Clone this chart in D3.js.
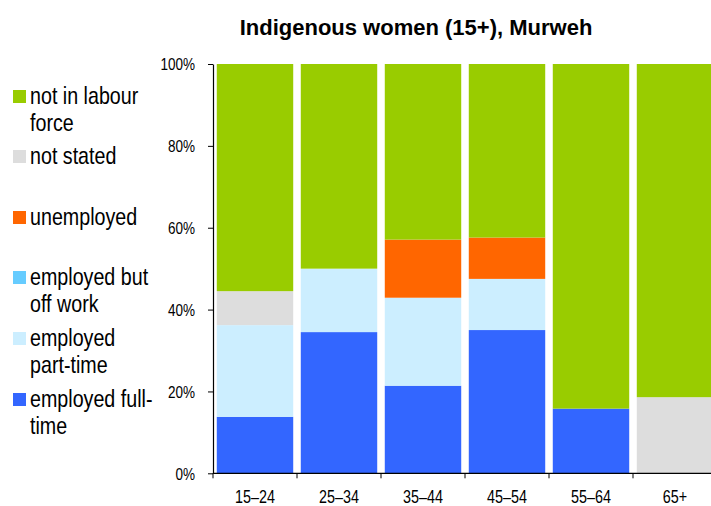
<!DOCTYPE html>
<html><head><meta charset="utf-8">
<script src="https://cdn.jsdelivr.net/npm/d3@7"></script>
<style>body{margin:0;background:#fff;} svg{display:block;font-family:"Liberation Sans",Arial,sans-serif;}</style>
</head><body>
<svg id="c" width="711" height="506"></svg>
<script>
const categories = ["15–24","25–34","35–44","45–54","55–64","65+"];
const seriesNames = ["employed full-time","employed part-time","employed but off work","unemployed","not stated","not in labour force"];
const fullTime   = [13.8, 34.5, 21.4, 35.0, 15.8, 0];
const partTime   = [22.4, 15.5, 21.5, 12.5, 0, 0];
const offWork    = [0, 0, 0, 0, 0, 0];
const unemployed = [0, 0, 14.2, 10.1, 0, 0];
const notStated  = [8.3, 0, 0, 0, 0, 18.6];
const notInLF    = [55.5, 50.0, 42.9, 42.4, 84.2, 81.4];
const yTicks = [0, 20, 40, 60, 80, 100];
const colors = ["#3366ff","#cceeff","#66ccff","#ff6600","#dddddd","#99cc00"];

const SX = 0.82; // narrow font emulation
const svg = d3.select("#c");
const x = d3.scaleBand().domain(categories).range([213, 717]).paddingInner(0.09).paddingOuter(0.045);
const y = d3.scaleLinear().domain([0,100]).range([473.3, 64]);

const rows = categories.map((c,i)=>({cat:c,
  "employed full-time":fullTime[i],"employed part-time":partTime[i],"employed but off work":offWork[i],
  "unemployed":unemployed[i],"not stated":notStated[i],"not in labour force":notInLF[i]}));
const stack = d3.stack().keys(seriesNames)(rows);

svg.append("g").selectAll("g").data(stack).join("g").attr("fill",(d,i)=>colors[i])
  .selectAll("rect").data(d=>d.filter(p=>p[1]-p[0]>0)).join("rect")
  .attr("x",d=>x(d.data.cat)).attr("width",x.bandwidth())
  .attr("y",d=>y(d[1])).attr("height",d=>y(d[0])-y(d[1]));

// y axis
const ya = svg.append("g").attr("transform","translate(213,0)")
  .call(d3.axisLeft(y).tickValues(yTicks).tickFormat(d=>d+"%").tickSize(5).tickSizeOuter(0));
ya.selectAll(".tick text").attr("x",null).attr("dy",null).attr("y",5.8)
  .attr("transform",`translate(-18,0) scale(${SX},1)`)
  .attr("font-size",16.5).attr("fill","#000").attr("font-family","Liberation Sans, Arial, sans-serif");
ya.selectAll("line,path").attr("stroke","#000");
ya.select("path").attr("stroke-width",1.2);

// x axis
const xa = svg.append("g").attr("transform","translate(0,473.3)");
xa.append("line").attr("x1",213).attr("x2",711).attr("stroke","#000").attr("stroke-width",1.2);
const step = x.step();
const bounds = categories.map((c,i)=>x(c)-step*x.paddingInner()/2);
xa.selectAll("line.t").data(bounds).join("line").attr("class","t")
  .attr("x1",d=>d).attr("x2",d=>d).attr("y1",0).attr("y2",5).attr("stroke","#000");
xa.selectAll("text").data(categories).join("text")
  .attr("transform",d=>`translate(${x(d)+x.bandwidth()/2},29.5) scale(${SX},1)`)
  .attr("text-anchor","middle").attr("font-size",17.5).text(d=>d);

// title
svg.append("text").attr("x",416).attr("y",35).attr("text-anchor","middle")
  .attr("font-size",22).attr("font-weight","bold").text("Indigenous women (15+), Murweh");

// legend
const legend = [
  {lines:["not in labour","force"], c:colors[5], y:104},
  {lines:["not stated"], c:colors[4], y:164},
  {lines:["unemployed"], c:colors[3], y:225},
  {lines:["employed but","off work"], c:colors[2], y:285},
  {lines:["employed","part-time"], c:colors[1], y:346},
  {lines:["employed full-","time"], c:colors[0], y:407}
];
const lg = svg.append("g");
legend.forEach(l=>{
  lg.append("rect").attr("x",13).attr("y",l.y-14).attr("width",13).attr("height",13).attr("fill",l.c);
  const t = lg.append("text").attr("transform",`translate(30,${l.y}) scale(${SX},1)`).attr("font-size",24);
  l.lines.forEach((s,i)=>t.append("tspan").attr("x",0).attr("dy",i?27.5:0).text(s));
});
</script>
</body></html>
